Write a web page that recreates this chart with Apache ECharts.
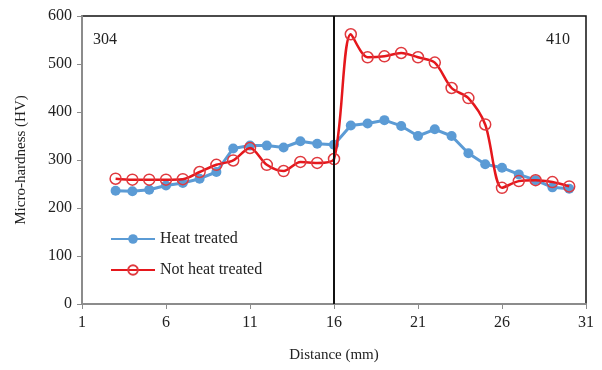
<!DOCTYPE html>
<html><head><meta charset="utf-8">
<script src="https://cdn.jsdelivr.net/npm/echarts@6/dist/echarts.min.js"></script>
<style>html,body{margin:0;padding:0;background:#fff}#c{width:602px;height:370px}</style>
</head><body><div id="c"></div>
<script>
const distance = [3,4,5,6,7,8,9,10,11,12,13,14,15,16,17,18,19,20,21,22,23,24,25,26,27,28,29,30];
const heatTreated = [236,235,238,247,252,261,275,324,330,330,326,339,334,332,372,376,383,371,350,364,350,314,291,284,270,258,243,240];
const notHeatTreated = [261,259,259,259,260,275,290,299,325,290,277,296,294,302,562,514,516,523,514,503,450,429,374,242,256,258,254,245];
const xTicks = [1,6,11,16,21,26,31];
const yTicks = [0,100,200,300,400,500,600];
const dividerX = 16;
const leftLabel = '304';
const rightLabel = '410';
const seriesNames = ['Heat treated','Not heat treated'];

const font = '"Liberation Serif", "Times New Roman", serif';
const chart = echarts.init(document.getElementById('c'), null, {renderer:'canvas'});
chart.setOption({
  animation:false,
  backgroundColor:'#fff',
  grid:{left:82,right:16,top:16,bottom:66,show:true,borderColor:'#111',borderWidth:1.5,backgroundColor:'transparent'},
  legend:{
    orient:'vertical',left:105,top:226,itemGap:15,itemWidth:44,itemHeight:12,
    textStyle:{fontFamily:font,fontSize:16,color:'#222'},
    data:seriesNames
  },
  xAxis:{
    type:'value',min:1,max:31,
    name:'Distance (mm)',nameLocation:'middle',nameGap:44,
    nameTextStyle:{fontFamily:font,fontSize:15,color:'#222'},
    axisLine:{show:true,lineStyle:{color:'#8c8c8c',width:2}},
    axisTick:{show:true,inside:false,length:5,lineStyle:{color:'#8c8c8c',width:1},customValues:xTicks},
    axisLabel:{customValues:xTicks,fontFamily:font,fontSize:16,color:'#222',margin:11},
    splitLine:{show:false}
  },
  yAxis:{
    type:'value',min:0,max:600,interval:100,
    name:'Micro-hardness (HV)',nameLocation:'middle',nameGap:53,nameRotate:90,
    nameTextStyle:{fontFamily:font,fontSize:15,color:'#222'},
    axisLine:{show:true,lineStyle:{color:'#8c8c8c',width:2}},
    axisTick:{show:true,length:5,lineStyle:{color:'#8c8c8c',width:1}},
    axisLabel:{fontFamily:font,fontSize:16,color:'#222',margin:10,
      formatter:function(v){return yTicks.indexOf(v)>=0?String(v):'';}},
    splitLine:{show:false}
  },
  series:[
    {
      name:seriesNames[0],type:'line',
      data:distance.map((d,i)=>[d,heatTreated[i]]),
      symbol:'circle',symbolSize:10,
      lineStyle:{color:'#5B9BD5',width:3},
      itemStyle:{color:'#5B9BD5'},
      z:2
    },
    {
      name:seriesNames[1],type:'line',smooth:0.3,
      data:distance.map((d,i)=>[d,notHeatTreated[i]]),
      symbol:'circle',symbolSize:11,
      lineStyle:{color:'#E5171C',width:2.5},
      itemStyle:{color:'rgba(255,255,255,0)',borderColor:'#E0393E',borderWidth:1.5},
      z:3,
      markLine:{
        silent:true,symbol:['none','none'],label:{show:false},
        lineStyle:{color:'#111',width:2,type:'solid'},
        data:[{xAxis:dividerX}]
      }
    }
  ],
  graphic:[
    {type:'text',left:93,top:32,style:{text:leftLabel,font:'16px '+font,fill:'#222'}},
    {type:'text',left:546,top:32,style:{text:rightLabel,font:'16px '+font,fill:'#222'}}
  ]
});
</script>
</body></html>
